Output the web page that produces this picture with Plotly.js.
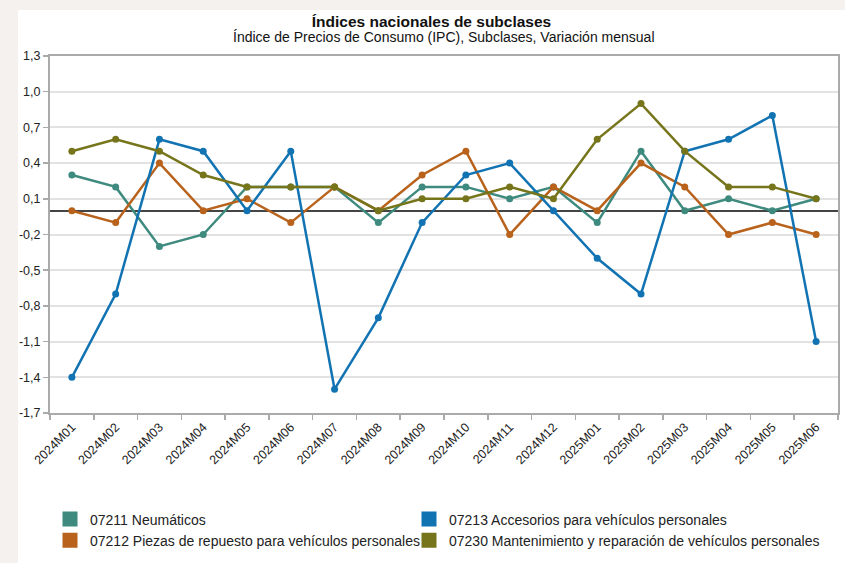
<!DOCTYPE html>
<html>
<head>
<meta charset="utf-8">
<script src="https://cdn.plot.ly/plotly-3.0.1.min.js"></script>
<style>
  html, body { margin: 0; padding: 0; background: #f4f1ee; width: 845px; height: 563px; overflow: hidden; }
  #chart { position: absolute; left: 18px; top: 10px; width: 827px; height: 553px; background: #ffffff; }
</style>
</head>
<body>
<div id="chart"></div>
<script>
// Categories (months)
const months = ["2024M01","2024M02","2024M03","2024M04","2024M05","2024M06","2024M07","2024M08","2024M09",
                "2024M10","2024M11","2024M12","2025M01","2025M02","2025M03","2025M04","2025M05","2025M06"];

// Series values (monthly variation, %)
const neumaticos    = [0.3, 0.2, -0.3, -0.2, 0.2, 0.2, 0.2, -0.1, 0.2, 0.2, 0.1, 0.2, -0.1, 0.5, 0.0, 0.1, 0.0, 0.1];
const piezas        = [0.0, -0.1, 0.4, 0.0, 0.1, -0.1, 0.2, 0.0, 0.3, 0.5, -0.2, 0.2, 0.0, 0.4, 0.2, -0.2, -0.1, -0.2];
const accesorios    = [-1.4, -0.7, 0.6, 0.5, 0.0, 0.5, -1.5, -0.9, -0.1, 0.3, 0.4, 0.0, -0.4, -0.7, 0.5, 0.6, 0.8, -1.1];
const mantenimiento = [0.5, 0.6, 0.5, 0.3, 0.2, 0.2, 0.2, 0.0, 0.1, 0.1, 0.2, 0.1, 0.6, 0.9, 0.5, 0.2, 0.2, 0.1];

// Series names
const seriesNames = [
  "07211 Neumáticos",
  "07212 Piezas de repuesto para vehículos personales",
  "07213 Accesorios para vehículos personales",
  "07230 Mantenimiento y reparación de vehículos personales"
];

// Y tick labels
const yTickVals   = [-1.7, -1.4, -1.1, -0.8, -0.5, -0.2, 0.1, 0.4, 0.7, 1.0, 1.3];
const yTickLabels = ["-1,7", "-1,4", "-1,1", "-0,8", "-0,5", "-0,2", "0,1", "0,4", "0,7", "1,0", "1,3"];

const titleText = "Índices nacionales de subclases";
const subtitleText = "Índice de Precios de Consumo (IPC), Subclases, Variación mensual";

const colors = ["#3f8a7e", "#b8621b", "#1273b3", "#76751b"];
const legendIds = ["legend", "legend", "legend2", "legend2"];
const seriesData = [neumaticos, piezas, accesorios, mantenimiento];

const FONT = "Liberation Sans, Arial, sans-serif";

const traces = [];
seriesData.forEach((vals, i) => {
  traces.push({
    type: "scatter",
    mode: "lines+markers",
    x: months,
    y: vals,
    name: seriesNames[i],
    showlegend: false,
    line: { color: colors[i], width: 2.5 },
    marker: { color: colors[i], size: 7, symbol: "circle" },
    hoverinfo: "x+y+name"
  });
});
// legend-only entries with square swatches
seriesData.forEach((vals, i) => {
  traces.push({
    type: "scatter",
    mode: "markers",
    x: [null],
    y: [null],
    name: seriesNames[i],
    legend: legendIds[i],
    showlegend: true,
    marker: { color: colors[i], size: 15, symbol: "square" },
    hoverinfo: "skip"
  });
});

const legendBase = {
  orientation: "v",
  xanchor: "left",
  y: -0.2535,
  yanchor: "top",
  traceorder: "normal",
  font: { family: FONT, size: 14, color: "#222" },
  itemclick: false,
  itemdoubleclick: false,
  bgcolor: "rgba(0,0,0,0)"
};

const layout = {
  width: 827,
  height: 553,
  paper_bgcolor: "#ffffff",
  plot_bgcolor: "#ffffff",
  separators: ",.",
  font: { family: FONT, size: 12, color: "#222" },
  margin: { l: 32, r: 7, t: 46, b: 148 },
  title: {
    text: "<b>" + titleText + "</b>",
    font: { family: FONT, size: 15.5, color: "#111" },
    x: 0.5,
    xanchor: "center",
    xref: "container",
    yref: "container",
    y: 0.989,
    yanchor: "top"
  },
  annotations: [{
    text: subtitleText,
    xref: "paper", yref: "paper",
    x: 0.5, y: 1.0529,
    xanchor: "center", yanchor: "middle",
    showarrow: false,
    font: { family: FONT, size: 14, color: "#111" }
  }],
  xaxis: {
    type: "category",
    categoryorder: "array",
    categoryarray: months,
    range: [-0.5, 17.5],
    tickangle: -45,
    tickson: "boundaries",
    ticks: "outside",
    ticklen: 5,
    tickcolor: "#aaa",
    tickwidth: 1.5,
    showgrid: false,
    showline: true,
    mirror: true,
    linecolor: "#aaa",
    linewidth: 2,
    tickfont: { family: FONT, size: 12.5, color: "#222" }
  },
  yaxis: {
    range: [-1.7, 1.3],
    tickmode: "array",
    tickvals: yTickVals,
    ticktext: yTickLabels,
    ticks: "outside",
    ticklen: 5,
    tickcolor: "#aaa",
    tickwidth: 1.5,
    showgrid: true,
    gridcolor: "#e2e2e2",
    gridwidth: 2,
    zeroline: true,
    zerolinecolor: "#444",
    zerolinewidth: 2,
    showline: true,
    mirror: true,
    linecolor: "#aaa",
    linewidth: 2,
    tickfont: { family: FONT, size: 12.5, color: "#222" }
  },
  legend: Object.assign({}, legendBase, { x: 0.0 }),
  legend2: Object.assign({}, legendBase, { x: 359 / 788 }),
  showlegend: true
};

Plotly.newPlot("chart", traces, layout, { displayModeBar: false, staticPlot: true });
</script>
</body>
</html>
